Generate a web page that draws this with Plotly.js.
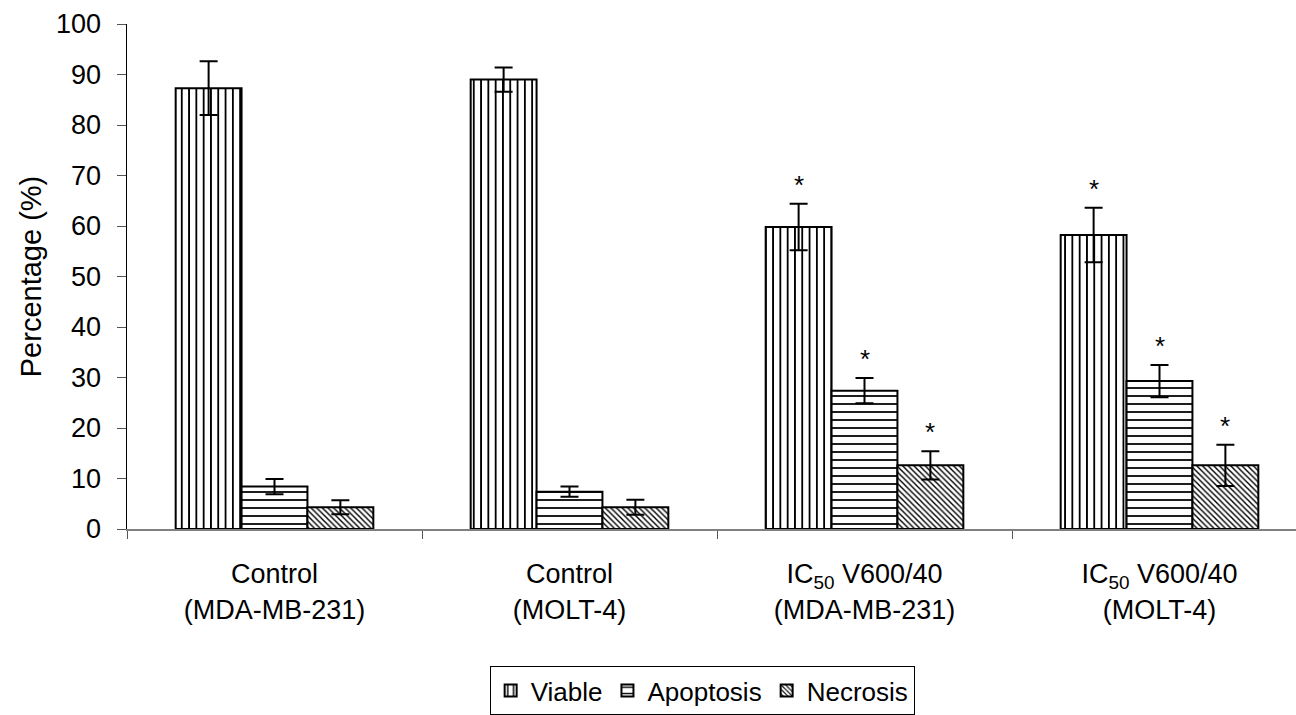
<!DOCTYPE html>
<html>
<head>
<meta charset="utf-8">
<script src="https://cdn.plot.ly/plotly-3.0.1.min.js"></script>
<style>html,body{margin:0;padding:0;background:#fff;overflow:hidden}</style>
</head>
<body>
<div id="chart" style="width:1296px;height:715px"></div>
<script>
// Data
const categories = [
  "Control<br>(MDA-MB-231)",
  "Control<br>(MOLT-4)",
  "IC<sub>50</sub> V600/40<br>(MDA-MB-231)",
  "IC<sub>50</sub> V600/40<br>(MOLT-4)"
];
const seriesNames = ["Viable", "Apoptosis", "Necrosis"];
const viable      = [87.3, 89.0, 59.8, 58.2];
const viableErr   = [5.3, 2.4, 4.6, 5.4];
const apoptosis   = [8.4, 7.4, 27.4, 29.3];
const apoptosisErr= [1.5, 1.0, 2.5, 3.2];
const necrosis    = [4.3, 4.3, 12.6, 12.6];
const necrosisErr = [1.4, 1.5, 2.8, 4.1];
// significance markers (per series, per category)
const viableSig    = [false, false, true, true];
const apoptosisSig = [false, false, true, true];
const necrosisSig  = [false, false, true, true];
const yTicks = [0,10,20,30,40,50,60,70,80,90,100];

const FONT = "Liberation Sans, Arial, sans-serif";
const values = [viable, apoptosis, necrosis];
const errs = [viableErr, apoptosisErr, necrosisErr];
const sigs = [viableSig, apoptosisSig, necrosisSig];
const patterns = [
  {shape: "|", size: 7.3, solidity: 0.25},
  {shape: "-", size: 8, solidity: 0.22},
  {shape: "\\", size: 4, solidity: 0.35}
];

const traces = seriesNames.map((name, i) => ({
  type: "bar",
  name: name,
  x: categories,
  y: values[i],
  error_y: {type: "data", array: errs[i], visible: true, color: "#000", thickness: 2, width: 9},
  marker: {
    color: "#fff",
    line: {color: "#000", width: 2},
    pattern: Object.assign({fgcolor: "#000", bgcolor: "#fff", fillmode: "replace"}, patterns[i])
  },
  hoverinfo: "x+y+name"
}));

const plotLeft = 127, plotRight = 1296;
const xRange = [-0.5, 3.4627];
const pxPerCat = (plotRight - plotLeft) / (xRange[1] - xRange[0]);
const bargap = 0.33;
const barPx = pxPerCat * (1 - bargap) / 3;

const annotations = [];
seriesNames.forEach((name, i) => {
  categories.forEach((c, j) => {
    if (sigs[i][j]) {
      annotations.push({
        x: c, y: values[i][j] + errs[i][j], xref: "x", yref: "y",
        text: "*", showarrow: false, xshift: (i - 1) * barPx, yshift: 2,
        yanchor: "bottom", font: {family: FONT, size: 26, color: "#000"}
      });
    }
  });
});

const layout = {
  width: 1296, height: 715,
  margin: {l: plotLeft, r: 0, t: 24, b: 184},
  paper_bgcolor: "#fff", plot_bgcolor: "#fff",
  barmode: "group", bargap: bargap, bargroupgap: 0,
  showlegend: true,
  legend: {
    orientation: "h", x: 0.492, xanchor: "center", y: -0.272, yanchor: "top",
    bordercolor: "#000", borderwidth: 1,
    font: {family: FONT, size: 26, color: "#000"},
    itemwidth: 30, tracegroupgap: 0
  },
  xaxis: {
    type: "category", range: xRange,
    tickson: "boundaries", ticks: "outside", ticklen: 8, tickcolor: "#555", tickwidth: 1,
    showline: true, linecolor: "#808080", linewidth: 2,
    showgrid: false, zeroline: false,
    ticklabelstandoff: 20,
    tickfont: {family: FONT, size: 27, color: "#000"},
    automargin: false
  },
  yaxis: {
    range: [0, 100], tickvals: yTicks, ticktext: yTicks.map(String),
    ticks: "outside", ticklen: 9, tickcolor: "#555", tickwidth: 1,
    showline: true, linecolor: "#000", linewidth: 1.5,
    showgrid: false, zeroline: false,
    ticklabelstandoff: 10,
    tickfont: {family: FONT, size: 27, color: "#000"},
    title: {text: "Percentage (%)", font: {family: FONT, size: 29, color: "#000"}, standoff: 6},
    automargin: false
  },
  annotations: annotations
};

Plotly.newPlot("chart", traces, layout, {staticPlot: true, displayModeBar: false});
</script>
</body>
</html>
